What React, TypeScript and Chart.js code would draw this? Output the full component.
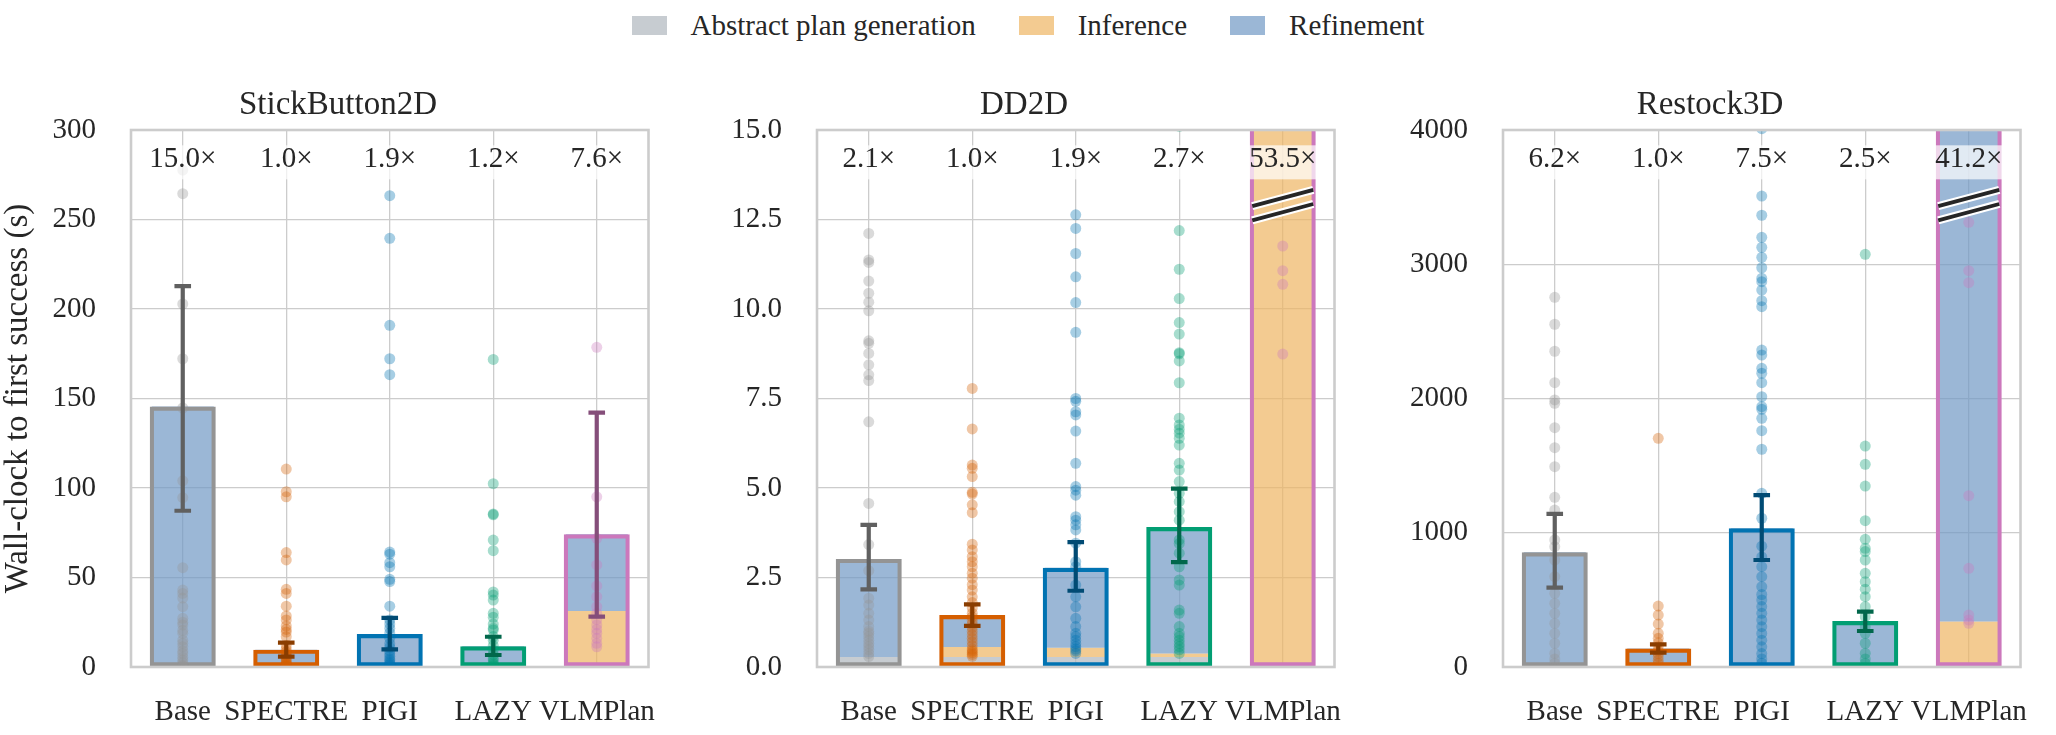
import React, { useEffect, useRef } from 'react';
import { Chart, registerables } from 'chart.js';

Chart.register(...registerables);

// ---------------- data ----------------
const categories = ['Base', 'SPECTRE', 'PIGI', 'LAZY', 'VLMPlan'];
const legendLabels = ['Abstract plan generation', 'Inference', 'Refinement'];
const panelTitles = ['StickButton2D', 'DD2D', 'Restock3D'];
const yAxisTitle = 'Wall-clock to first success (s)';

// StickButton2D
const sbAbstract = [0.3, 0.3, 0.3, 0.3, 0];
const sbInference = [0, 0.3, 0.3, 0.1, 31.3];
const sbRefinement = [145.2, 9.1, 17.8, 11.2, 42.8];
const sbErrLow = [87.3, 5.8, 9.9, 6.7, 28.1];
const sbErrHigh = [212.8, 13.6, 27.4, 16.9, 142.1];
const sbSpeedup = [15.0, 1.0, 1.9, 1.2, 7.6];
const sbTicks = { max: 300, step: 50, decimals: 0 };
const sbPointsBase = [277.6, 264.4, 202.8, 172.2, 144.7, 104.0, 94.6, 55.5, 43.0, 41.1, 38.5, 33.7, 27.2, 25.0, 23.5, 20.5, 18.8, 15.0, 13.2, 11.3, 9.0, 7.6, 5.5, 3.9, 2.5, 1.1, 0.6];
const sbPointsSpectre = [110.6, 97.9, 95.1, 63.9, 59.8, 43.4, 41.1, 34.0, 28.5, 26.3, 22.9, 21.0, 19.5, 16.9, 12.0, 10.0, 8.5, 7.0, 6.0, 5.0, 4.0, 3.0, 2.2, 1.5, 1.0, 0.5];
const sbPointsPigi = [263.3, 239.5, 190.9, 172.2, 163.3, 64.2, 63.0, 58.3, 56.0, 49.0, 47.7, 34.0, 26.3, 24.0, 21.6, 19.0, 16.0, 13.0, 11.0, 9.0, 7.5, 6.0, 4.5, 3.5, 2.5, 1.5, 0.8];
const sbPointsLazy = [171.8, 102.4, 85.5, 85.0, 70.9, 65.0, 41.9, 40.2, 37.4, 30.0, 27.8, 24.0, 21.6, 20.7, 17.0, 15.0, 12.0, 9.5, 7.0, 5.0, 3.9, 2.5, 1.5, 0.7];
const sbPointsVlm = [178.6, 95.1, 71.9, 57.0, 45.3, 39.3, 33.7, 30.0, 26.5, 23.5, 21.0, 18.8, 16.0, 13.2, 11.3];

// DD2D
const ddAbstract = [0.28, 0.28, 0.28, 0.28, 0];
const ddInference = [0, 0.28, 0.26, 0.1, 77.6];
const ddRefinement = [2.74, 0.89, 2.23, 3.53, 0];
const ddErrLow = [2.17, 1.15, 2.13, 2.93, null];
const ddErrHigh = [3.97, 1.75, 3.49, 4.98, null];
const ddSpeedup = [2.1, 1.0, 1.9, 2.7, 53.5];
const ddTicks = { max: 15, step: 2.5, decimals: 1 };
const ddPointsBase = [12.11, 11.37, 11.3, 10.78, 10.44, 10.19, 9.95, 9.11, 9.04, 8.76, 8.44, 8.16, 8.0, 6.85, 4.57, 3.42, 2.69, 1.92, 1.73, 1.5, 1.31, 1.13, 1.0, 0.94, 0.85, 0.75, 0.65, 0.57, 0.48, 0.38, 0.29];
const ddPointsSpectre = [7.78, 6.65, 5.64, 5.55, 5.32, 4.88, 4.83, 4.53, 4.31, 3.43, 3.27, 3.08, 2.94, 2.8, 2.62, 2.48, 2.3, 2.15, 1.96, 1.8, 1.65, 1.5, 1.4, 1.3, 1.2, 1.1, 1.0, 0.9, 0.8, 0.7, 0.6, 0.5, 0.45, 0.4, 0.35, 0.3];
const ddPointsPigi = [12.63, 12.25, 11.55, 10.9, 10.18, 9.35, 7.5, 7.42, 7.13, 7.04, 6.59, 5.69, 5.04, 4.94, 4.8, 4.2, 4.1, 3.97, 3.83, 3.46, 2.94, 2.8, 2.29, 1.96, 1.68, 1.36, 1.13, 0.94, 0.85, 0.75, 0.65, 0.57, 0.5, 0.45, 0.38];
const ddPointsLazy = [15.1, 12.19, 11.11, 10.29, 9.62, 9.3, 8.78, 8.75, 8.55, 7.94, 6.95, 6.76, 6.64, 6.53, 6.39, 6.2, 5.69, 5.5, 5.18, 4.85, 4.62, 4.34, 4.1, 3.55, 3.45, 3.18, 2.8, 2.43, 2.29, 1.59, 1.5, 1.13, 0.94, 0.85, 0.75, 0.65, 0.57, 0.48, 0.38];
const ddPointsVlm = [11.76, 11.07, 10.69, 8.74];

// Restock3D
const rsAbstract = [4, 4, 4, 4, 0];
const rsInference = [0, 6, 6, 6, 338];
const rsRefinement = [850, 128, 1023, 333, 5348];
const rsErrLow = [591, 107, 797, 268, null];
const rsErrHigh = [1140, 169, 1281, 412, null];
const rsSpeedup = [6.2, 1.0, 7.5, 2.5, 41.2];
const rsTicks = { max: 4000, step: 1000, decimals: 0 };
const rsPointsBase = [2754, 2553, 2352, 2118, 1989, 1964, 1783, 1634, 1492, 1264, 1169, 946, 896, 797, 673, 549, 474, 400, 325, 251, 177, 102, 60, 28];
const rsPointsSpectre = [1703, 454, 387, 320, 251, 214, 180, 151, 120, 100, 77, 50, 28];
const rsPointsPigi = [4010, 3508, 3365, 3201, 3126, 3052, 2974, 2895, 2870, 2808, 2729, 2684, 2361, 2324, 2225, 2188, 2118, 2013, 1939, 1920, 1852, 1760, 1622, 1294, 1108, 900, 820, 747, 673, 598, 540, 499, 450, 400, 350, 300, 250, 200, 150, 100, 60, 28];
const rsPointsLazy = [3074, 1646, 1510, 1348, 1090, 951, 884, 860, 797, 698, 635, 580, 524, 449, 375, 300, 251, 177, 102, 60, 28];
const rsPointsVlm = [3312, 2952, 2863, 1276, 735, 387, 350, 325];

// ---------------- styles ----------------
const FONT = "'Liberation Serif', 'Times New Roman', serif";
const TEXT = '#262626';
const GRID = '#cccccc';
const segmentFills = ['rgba(175,182,189,0.7)', 'rgba(238,181,99,0.7)', 'rgba(112,152,196,0.7)'];
const methodColors = ['#949494', '#d55e00', '#0173b2', '#029e73', '#cc78bc'];
const errorColors = ['#606060', '#8a3d00', '#014b74', '#01674b', '#854e7a'];
const pointFills = ['rgba(148,148,148,0.35)', 'rgba(213,94,0,0.35)', 'rgba(1,115,178,0.35)', 'rgba(2,158,115,0.35)', 'rgba(204,120,188,0.35)'];

type PanelData = {
  title: string;
  abstract: number[];
  inference: number[];
  refinement: number[];
  errLow: (number | null)[];
  errHigh: (number | null)[];
  speedup: number[];
  ticks: { max: number; step: number; decimals: number };
  points: number[][];
};

const panels: PanelData[] = [
  { title: panelTitles[0], abstract: sbAbstract, inference: sbInference, refinement: sbRefinement, errLow: sbErrLow, errHigh: sbErrHigh, speedup: sbSpeedup, ticks: sbTicks, points: [sbPointsBase, sbPointsSpectre, sbPointsPigi, sbPointsLazy, sbPointsVlm] },
  { title: panelTitles[1], abstract: ddAbstract, inference: ddInference, refinement: ddRefinement, errLow: ddErrLow, errHigh: ddErrHigh, speedup: ddSpeedup, ticks: ddTicks, points: [ddPointsBase, ddPointsSpectre, ddPointsPigi, ddPointsLazy, ddPointsVlm] },
  { title: panelTitles[2], abstract: rsAbstract, inference: rsInference, refinement: rsRefinement, errLow: rsErrLow, errHigh: rsErrHigh, speedup: rsSpeedup, ticks: rsTicks, points: [rsPointsBase, rsPointsSpectre, rsPointsPigi, rsPointsLazy, rsPointsVlm] },
];

const decorPlugin = {
  id: 'decor',
  afterDatasetsDraw(chart: any, _args: any, opts: any) {
    const { ctx, chartArea: a } = chart;
    const h = a.bottom - a.top;
    ctx.save();
    // frame (all four spines)
    ctx.strokeStyle = GRID;
    ctx.lineWidth = 2.6;
    ctx.strokeRect(a.left, a.top, a.right - a.left, h);

    // broken-axis marks on bars that exceed the axis
    const meta = chart.getDatasetMeta(opts.outlineIndex);
    const yMax = chart.scales.y.max;
    (opts.totals as number[]).forEach((t, i) => {
      if (t <= yMax) return;
      const bar = meta.data[i];
      const { x, width } = bar.getProps(['x', 'width'], true);
      const half = width / 2 - 2.5;
      const dy = half * 0.268;
      [0.1266, 0.153].forEach((f) => {
        const yc = a.top + f * h;
        ctx.lineCap = 'butt';
        ctx.strokeStyle = '#ffffff';
        ctx.lineWidth = 8;
        ctx.beginPath();
        ctx.moveTo(x - half, yc + dy);
        ctx.lineTo(x + half, yc - dy);
        ctx.stroke();
        ctx.strokeStyle = '#262626';
        ctx.lineWidth = 3.8;
        ctx.beginPath();
        ctx.moveTo(x - half, yc + dy);
        ctx.lineTo(x + half, yc - dy);
        ctx.stroke();
      });
    });

    // speed-up labels
    ctx.font = `29px ${FONT}`;
    ctx.textAlign = 'center';
    ctx.textBaseline = 'alphabetic';
    const yb = a.top + 0.0695 * h;
    (opts.speedup as number[]).forEach((s, i) => {
      const txt = `${s.toFixed(1)}×`;
      const x = chart.scales.x.getPixelForValue(i);
      const w = ctx.measureText(txt).width;
      ctx.fillStyle = 'rgba(255,255,255,0.7)';
      ctx.fillRect(x - w / 2 - 2, yb - 22, w + 4, 34);
      ctx.fillStyle = TEXT;
      ctx.fillText(txt, x, yb);
    });
    ctx.restore();
  },
};

function Panel({ data, left, showYTitle }: { data: PanelData; left: number; showYTitle: boolean }) {
  const ref = useRef<HTMLCanvasElement>(null);
  useEffect(() => {
    const n = categories.length;
    const lower1 = data.abstract;
    const lower2 = data.abstract.map((v, i) => v + data.inference[i]);
    const totals = lower2.map((v, i) => v + data.refinement[i]);
    const segCommon = { grouped: false, barPercentage: 1, categoryPercentage: 0.6, borderWidth: 0, clip: 0 };
    const datasets: any[] = [
      { ...segCommon, type: 'bar', label: legendLabels[0], data: lower1.map((v) => [0, v]), backgroundColor: segmentFills[0], order: 13 },
      { ...segCommon, type: 'bar', label: legendLabels[1], data: lower2.map((v, i) => [lower1[i], v]), backgroundColor: segmentFills[1], order: 12 },
      { ...segCommon, type: 'bar', label: legendLabels[2], data: totals.map((v, i) => [lower2[i], v]), backgroundColor: segmentFills[2], order: 11 },
      {
        type: 'bar', label: 'outline', data: totals, grouped: false, barPercentage: 1, categoryPercentage: 0.638,
        backgroundColor: 'rgba(0,0,0,0)', borderColor: methodColors, borderWidth: 4.2, borderSkipped: false, clip: 0, order: 10,
      },
    ];
    const outlineIndex = 3;
    for (let i = 0; i < n; i++) {
      const cat = categories[i];
      datasets.push({
        type: 'line', label: `pts-${i}`, showLine: false, data: data.points[i].map((v) => ({ x: cat, y: v })),
        pointRadius: 5.5, pointBorderWidth: 0, pointBackgroundColor: pointFills[i], pointBorderColor: 'rgba(0,0,0,0)',
        clip: 0, order: 5,
      });
    }
    for (let i = 0; i < n; i++) {
      const lo = data.errLow[i];
      const hi = data.errHigh[i];
      if (lo == null || hi == null) continue;
      const cat = categories[i];
      datasets.push({
        type: 'line', label: `err-${i}`, data: [{ x: cat, y: lo }, { x: cat, y: hi }],
        borderColor: errorColors[i], borderWidth: 4.2, pointStyle: 'line', pointRadius: 8.3,
        pointBorderWidth: 4.2, pointBorderColor: errorColors[i], pointBackgroundColor: errorColors[i], order: 1,
      });
    }
    const tk = data.ticks;
    const chart = new Chart(ref.current as HTMLCanvasElement, {
      type: 'bar',
      data: { labels: categories, datasets },
      options: {
        animation: false,
        responsive: false,
        events: [],
        layout: { padding: { left: 0, right: 8, top: 0, bottom: 0 } },
        plugins: {
          legend: { display: false },
          tooltip: { enabled: false },
          title: {
            display: true, text: data.title, color: TEXT,
            font: { family: FONT, size: 33, weight: 'normal', lineHeight: 1.2 },
            padding: { top: 36, bottom: 4.4 },
          },
          decor: { outlineIndex, totals, speedup: data.speedup },
        } as any,
        scales: {
          x: {
            type: 'category', offset: true,
            grid: { offset: false, color: GRID, lineWidth: 1.3, drawTicks: false },
            border: { display: false },
            ticks: { color: TEXT, font: { family: FONT, size: 29 }, padding: 28, maxRotation: 0, autoSkip: false },
            afterFit: (s: any) => { s.height = 68; },
          },
          y: {
            type: 'linear', min: 0, max: tk.max,
            grid: { color: GRID, lineWidth: 1.3, drawTicks: false },
            border: { display: false },
            ticks: {
              stepSize: tk.step, color: TEXT, font: { family: FONT, size: 29 }, padding: 35,
              callback: (v: any) => Number(v).toFixed(tk.decimals),
            },
            title: {
              display: showYTitle, text: yAxisTitle, color: TEXT,
              font: { family: FONT, size: 33, lineHeight: 1.1 }, padding: 0,
            },
            afterFit: (s: any) => { s.width = 131; },
          },
        } as any,
      },
      plugins: [decorPlugin],
    } as any);
    return () => chart.destroy();
  }, [data, showYTitle]);
  return (
    <div style={{ position: 'absolute', left, top: 50, width: 684, height: 685 }}>
      <canvas ref={ref} width={684} height={685} style={{ display: 'block' }} />
    </div>
  );
}

export default function App() {
  return (
    <div style={{ position: 'fixed', left: 0, top: 0, width: 2056, height: 735, background: '#ffffff', overflow: 'hidden' }}>
      <div
        style={{
          position: 'absolute', left: 0, top: 0, width: 2056, height: 50, display: 'flex',
          justifyContent: 'center', alignItems: 'center', fontFamily: FONT, fontSize: 29, color: TEXT,
        }}
      >
        {legendLabels.map((lab, i) => (
          <div key={lab} style={{ display: 'flex', alignItems: 'center', marginLeft: i ? 43 : 0 }}>
            <span style={{ display: 'inline-block', width: 35, height: 19, background: segmentFills[i], marginRight: 24 }} />
            <span style={{ whiteSpace: 'nowrap' }}>{lab}</span>
          </div>
        ))}
      </div>
      {panels.map((p, i) => (
        <Panel key={p.title} data={p} left={i * 686} showYTitle={i === 0} />
      ))}
    </div>
  );
}
